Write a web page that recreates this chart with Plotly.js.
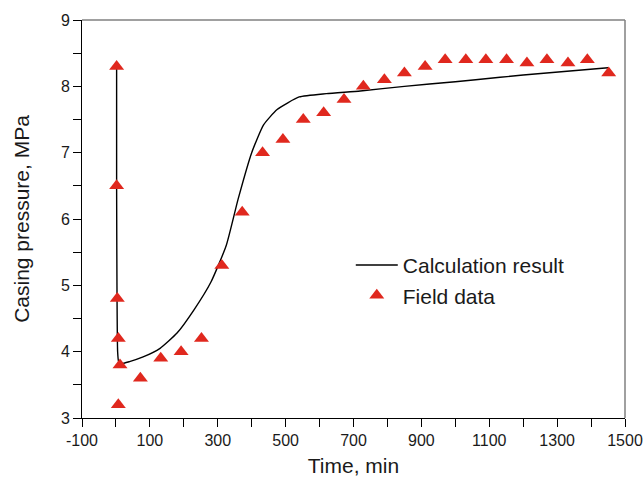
<!DOCTYPE html>
<html>
<head>
<meta charset="utf-8">
<script src="https://cdn.plot.ly/plotly-3.0.1.min.js"></script>
<style>html,body{margin:0;padding:0;background:#fff;}#chart{width:643px;height:477px;}</style>
</head>
<body>
<div id="chart"></div>
<script>
// Calculation result (simulated casing pressure)
const calcTime = [2, 2, 3, 5, 8, 15, 40, 80, 130, 180, 230, 280, 325, 360, 400, 435, 475, 540, 620, 720, 850, 1000, 1060, 1200, 1450];
const calcPressure = [8.3, 6.5, 5.0, 4.0, 3.85, 3.82, 3.85, 3.92, 4.05, 4.28, 4.63, 5.05, 5.6, 6.3, 7.0, 7.42, 7.65, 7.84, 7.89, 7.93, 8.0, 8.07, 8.1, 8.17, 8.28];

// Field data
const fieldTime = [2, 2, 4, 7, 12, 7, 72, 132, 192, 252, 312, 372, 432, 492, 552, 612, 672, 729, 791, 850, 911, 970, 1031, 1090, 1151, 1211, 1270, 1332, 1389, 1452];
const fieldPressure = [8.3, 6.5, 4.8, 4.2, 3.8, 3.2, 3.6, 3.9, 4.0, 4.2, 5.3, 6.1, 7.0, 7.2, 7.5, 7.6, 7.8, 8.0, 8.1, 8.2, 8.3, 8.4, 8.4, 8.4, 8.4, 8.35, 8.4, 8.35, 8.4, 8.2];

// Tick labels
const xTickVals = [-100, 100, 300, 500, 700, 900, 1100, 1300, 1500];
const xTickText = ["-100", "100", "300", "500", "700", "900", "1100", "1300", "1500"];

const seriesNames = ["Calculation result", "Field data"];
const xTitle = "Time, min";
const yTitle = "Casing pressure, MPa";

const font = "Arial, 'Liberation Sans', sans-serif";

const traces = [
  {
    x: calcTime, y: calcPressure, name: seriesNames[0], type: "scatter", mode: "lines",
    line: {color: "#000000", width: 1.4, shape: "spline", smoothing: 0.5}
  },
  {
    x: fieldTime, y: fieldPressure, name: seriesNames[1], type: "scatter", mode: "markers",
    marker: {symbol: "triangle-up", size: 13, color: "#e0281e", line: {width: 0}}
  }
];

const layout = {
  width: 643, height: 477,
  margin: {l: 82, r: 18, t: 20, b: 59},
  paper_bgcolor: "#ffffff", plot_bgcolor: "#ffffff",
  font: {family: font, color: "#1a1a1a", size: 16},
  showlegend: true,
  legend: {
    x: 0.495, y: 0.435, xanchor: "left", yanchor: "top",
    bgcolor: "rgba(0,0,0,0)", font: {size: 21, family: font, color: "#1a1a1a"},
    itemwidth: 42, tracegroupgap: 0
  },
  xaxis: {
    range: [-100, 1500], tickmode: "array", tickvals: xTickVals, ticktext: xTickText,
    showgrid: false, zeroline: false,
    showline: true, linecolor: "#000", linewidth: 1,
    ticks: "outside", ticklen: 8, tickcolor: "#000",
    minor: {dtick: 100, tick0: -100, ticks: "outside", ticklen: 8, tickcolor: "#000", showgrid: false},
    tickfont: {size: 16, family: font},
    title: {text: xTitle, font: {size: 21, family: font}, standoff: 11}
  },
  yaxis: {
    range: [3, 9], tick0: 3, dtick: 1,
    showgrid: false, zeroline: false,
    showline: true, linecolor: "#000", linewidth: 1,
    ticks: "outside", ticklen: 8, tickcolor: "#000",
    minor: {dtick: 0.5, ticks: "outside", ticklen: 8, tickcolor: "#000", showgrid: false},
    tickfont: {size: 16, family: font},
    title: {text: yTitle, font: {size: 21, family: font}, standoff: 25}
  },
  shapes: [
    {type: "line", xref: "paper", yref: "paper", x0: 0, x1: 1, y0: 1, y1: 1, line: {color: "#808080", width: 1.5}},
    {type: "line", xref: "paper", yref: "paper", x0: 1, x1: 1, y0: 0, y1: 1, line: {color: "#808080", width: 1.5}}
  ]
};

Plotly.newPlot("chart", traces, layout, {displayModeBar: false, staticPlot: true});
</script>
</body>
</html>
